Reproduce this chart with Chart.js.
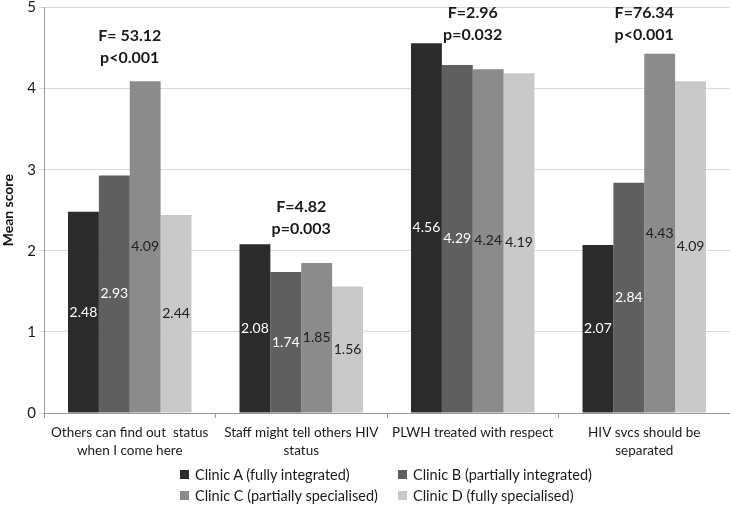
<!DOCTYPE html>
<html>
<head>
<meta charset="utf-8">
<script src="https://cdn.jsdelivr.net/npm/chart.js@4/dist/chart.umd.min.js"></script>
<style>
  html, body { margin: 0; padding: 0; background: #fff; }
  #wrap { position: relative; width: 730px; height: 505px; }
  #legend { position: absolute; left: 180px; top: 465px; display: grid;
    grid-template-columns: 218px 240px; row-gap: 3px; font-family: Lato, sans-serif; font-size: 14.5px; color: #1a1a1a; }
  #legend div { display: flex; align-items: center; height: 18px; white-space: nowrap; }
  #legend span.box { flex: 0 0 9px; width: 9px; height: 9px; margin-right: 6px; display: inline-block; }
</style>
</head>
<body>
<div id="wrap">
  <canvas id="c" width="730" height="505"></canvas>
  <div id="legend"></div>
</div>
<script>
// Data
const categories = [
  ['Others can find out  status', 'when I come here'],
  ['Staff might tell others HIV', 'status'],
  ['PLWH treated with respect'],
  ['HIV svcs should be', 'separated']
];
const clinicNames = ['Clinic A (fully integrated)', 'Clinic B (partially integrated)',
  'Clinic C (partially specialised)', 'Clinic D (fully specialised)'];
const clinicA = [2.48, 2.08, 4.56, 2.07];
const clinicB = [2.93, 1.74, 4.29, 2.84];
const clinicC = [4.09, 1.85, 4.24, 4.43];
const clinicD = [2.44, 1.56, 4.19, 4.09];
const fStats = ['F= 53.12', 'F=4.82', 'F=2.96', 'F=76.34'];
const pStats = ['p<0.001', 'p=0.003', 'p=0.032', 'p<0.001'];
const statY = [4.65, 2.54, 4.93, 4.93]; // where the F line sits, in score units
const yTicks = [0, 1, 2, 3, 4, 5];

const colors = ['#2b2b2b', '#5f5f5f', '#8b8b8b', '#c9c9c9'];
const labelColors = ['#ffffff', '#ffffff', '#222222', '#222222'];
const FONT = 'Lato, sans-serif';

// value labels in the middle of each bar
const barLabels = {
  id: 'barLabels',
  afterDatasetsDraw(chart) {
    const ctx = chart.ctx;
    ctx.save();
    ctx.font = '14px ' + FONT;
    ctx.textAlign = 'center';
    ctx.textBaseline = 'middle';
    chart.data.datasets.forEach((ds, i) => {
      chart.getDatasetMeta(i).data.forEach((bar, j) => {
        ctx.fillStyle = labelColors[i];
        ctx.fillText(ds.data[j].toFixed(2), bar.x, (bar.y + bar.base) / 2);
      });
    });
    ctx.restore();
  }
};

// F / p annotations above each group
const statLabels = {
  id: 'statLabels',
  afterDraw(chart) {
    const ctx = chart.ctx, xs = chart.scales.x, ys = chart.scales.y;
    ctx.save();
    ctx.font = 'bold 16px ' + FONT;
    ctx.fillStyle = '#1a1a1a';
    ctx.textAlign = 'center';
    ctx.textBaseline = 'middle';
    categories.forEach((c, i) => {
      const x = xs.getPixelForValue(i);
      const y = ys.getPixelForValue(statY[i]);
      ctx.fillText(fStats[i], x, y);
      ctx.fillText(pStats[i], x, y + 22);
    });
    ctx.restore();
  }
};

const series = [clinicA, clinicB, clinicC, clinicD];

const chart = new Chart(document.getElementById('c'), {
  type: 'bar',
  data: {
    labels: categories,
    datasets: series.map((d, i) => ({
      label: clinicNames[i], data: d, backgroundColor: colors[i],
      borderWidth: 0, categoryPercentage: 0.72, barPercentage: 1
    }))
  },
  options: {
    responsive: false,
    animation: false,
    layout: { padding: { top: 7, right: 0, left: 0, bottom: 0 } },
    plugins: { legend: { display: false }, tooltip: { enabled: false } },
    scales: {
      x: {
        offset: true,
        grid: { offset: true, drawOnChartArea: false, drawTicks: true, tickLength: 5, color: '#999' },
        border: { color: '#999' },
        ticks: { color: '#1a1a1a', font: { family: FONT, size: 13.5, lineHeight: 1.3 }, padding: 6, maxRotation: 0, autoSkip: false },
        afterFit(s) { s.height = 92; }
      },
      y: {
        min: 0, max: 5,
        afterBuildTicks(s) { s.ticks = yTicks.map(v => ({ value: v })); },
        grid: { color: '#d9d9d9', drawTicks: true, tickLength: 5 },
        border: { color: '#999' },
        ticks: { color: '#1a1a1a', font: { family: FONT, size: 15, lineHeight: 0.6 }, padding: 3 },
        title: { display: true, text: 'Mean score', color: '#111', font: { family: FONT, size: 14, weight: 'bold' }, padding: { top: 0, bottom: 2 } },
        afterFit(s) { s.width = 44; }
      }
    }
  },
  plugins: [barLabels, statLabels]
});

// legend in a 2x2 grid
const leg = document.getElementById('legend');
clinicNames.forEach((n, i) => {
  const d = document.createElement('div');
  d.innerHTML = '<span class="box" style="background:' + colors[i] + '"></span>' + n;
  leg.appendChild(d);
});
</script>
</body>
</html>
